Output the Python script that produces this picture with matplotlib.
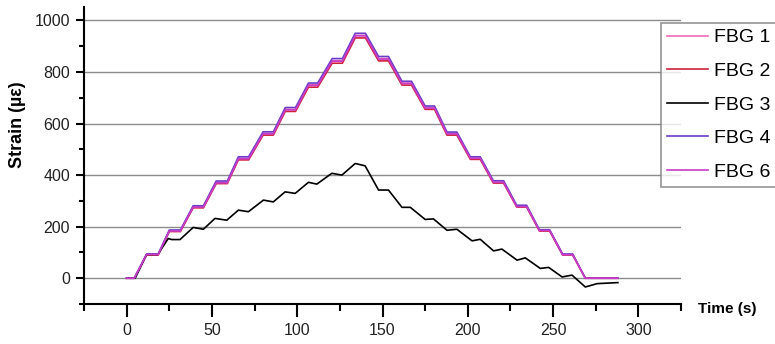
import matplotlib
matplotlib.use("Agg")
import matplotlib.pyplot as plt
from matplotlib.ticker import MultipleLocator

# ---- data ----
t_fbg = [0, 4.5, 11.7, 18.5, 25, 31.5, 39, 45, 52.5, 59, 65.5, 71.5, 80, 86, 93, 99,
         106.6, 112, 120.5, 126.5, 134, 140, 147.7, 153.5, 161.4, 167, 175, 180.5,
         187.8, 193.6, 201.5, 207.3, 215, 221, 228.7, 234.5, 242, 248, 255.6, 261.5,
         268.9, 288]
fbg1 = [0, 0, 92, 92, 184, 184, 277, 277, 372, 372, 465, 465, 562, 562, 655, 655,
        750, 750, 844, 844, 942, 942, 852, 852, 757, 757, 662, 662, 561, 561, 466, 466,
        373, 373, 279, 279, 185, 185, 92, 92, 0, 0]
fbg2 = [0, 0, 90, 90, 181, 181, 273, 273, 367, 367, 459, 459, 555, 555, 647, 647,
        741, 741, 834, 834, 932, 932, 843, 843, 749, 749, 655, 655, 555, 555, 461, 461,
        369, 369, 276, 276, 183, 183, 90, 90, 0, 0]
fbg4 = [0, 0, 94, 94, 187, 187, 281, 281, 377, 377, 471, 471, 568, 568, 662, 662,
        757, 757, 852, 852, 950, 950, 860, 860, 764, 764, 668, 668, 567, 567, 471, 471,
        378, 378, 283, 283, 188, 188, 94, 94, 0, 0]
fbg6 = [0, 0, 92, 92, 183, 183, 276, 276, 370, 370, 463, 463, 560, 560, 653, 653,
        748, 748, 842, 842, 940, 940, 850, 850, 755, 755, 660, 660, 560, 560, 465, 465,
        372, 372, 278, 278, 185, 185, 91, 91, 0, 0]

t_fbg3 = [0, 5, 11.7, 18.3, 21.5, 24.4, 26.4, 31.3, 39, 45, 51.8, 58.7, 65.5, 71.4,
          80.2, 86, 92.9, 98.8, 106.6, 111.5, 120.3, 126.2, 134, 139.8, 147.7, 153.5,
          161.4, 166.3, 175, 179.9, 187.8, 193.6, 202.5, 207.3, 215.1, 220, 228.9,
          233.7, 242.5, 247.4, 255.3, 261.1, 268.9, 275.8, 288]
fbg3 = [0, 0, 92, 92, 125, 154, 150, 150, 197, 190, 232, 225, 264, 258,
        303, 296, 335, 329, 372, 365, 407, 400, 445, 436, 342, 342,
        275, 275, 228, 230, 186, 190, 145, 151, 106, 113, 70,
        79, 38, 42, 5, 12, -34, -21, -17]

labels = ["FBG 1", "FBG 2", "FBG 3", "FBG 4", "FBG 6"]
colors = ["#f06ab8", "#d0203c", "#000000", "#6a3cc8", "#c83cc8"]

# ---- figure ----
fig = plt.figure(figsize=(7.75, 3.44), dpi=100)
ax = fig.add_axes([84 / 775, 40 / 344, 597 / 775, 297 / 344])

series = [(t_fbg, fbg1), (t_fbg, fbg2), (t_fbg3, fbg3), (t_fbg, fbg4), (t_fbg, fbg6)]
for (tx, vy), lab, c in zip(series, labels, colors):
    ax.plot(tx, vy, color=c, lw=1.2, label=lab)

ax.set_xlim(-25, 325)
ax.set_ylim(-100, 1052)
ax.xaxis.set_major_locator(MultipleLocator(50))
ax.xaxis.set_minor_locator(MultipleLocator(25))
ax.yaxis.set_major_locator(MultipleLocator(200))
ax.yaxis.set_minor_locator(MultipleLocator(100))

for y in range(0, 1001, 200):
    ax.axhline(y, color="#8c8c8c", lw=1.0, zorder=0)

for s in ["top", "right"]:
    ax.spines[s].set_visible(False)
for s in ["left", "bottom"]:
    ax.spines[s].set_linewidth(1.5)
    ax.spines[s].set_color("black")

ax.tick_params(axis="x", which="major", direction="out", length=9, width=1.5, pad=5)
ax.tick_params(axis="x", which="minor", direction="out", length=5, width=1.5)
ax.tick_params(axis="y", which="major", direction="out", length=6, width=1.5, pad=4)
ax.tick_params(axis="y", which="minor", direction="out", length=3.5, width=1.5)
for lbl in ax.get_xticklabels() + ax.get_yticklabels():
    lbl.set_fontfamily(["Liberation Sans", "DejaVu Sans"])
    lbl.set_fontsize(11.5)
    lbl.set_color("#222222")

fig.text(18 / 775, 1 - 125 / 344, "Strain (µε)", rotation=90, ha="center", va="center",
         fontsize=13, fontweight="bold", family=["Liberation Sans", "DejaVu Sans"])
fig.text(698 / 775, 1 - 309 / 344, "Time (s)", ha="left", va="center",
         fontsize=11, fontweight="bold", family=["Liberation Sans", "DejaVu Sans"])

leg = fig.legend(loc="upper left", bbox_to_anchor=(661 / 775, 1 - 23 / 344),
                 bbox_transform=fig.transFigure, borderaxespad=0,
                 prop={"family": ["Liberation Sans", "DejaVu Sans"], "size": 14},
                 handlelength=2.1, handletextpad=0.35, labelspacing=0.82,
                 borderpad=0.3, frameon=True, fancybox=False)
leg.get_frame().set_edgecolor("#7a7a7a")
leg.get_frame().set_linewidth(1.2)

fig.savefig("out.png", dpi=100)
